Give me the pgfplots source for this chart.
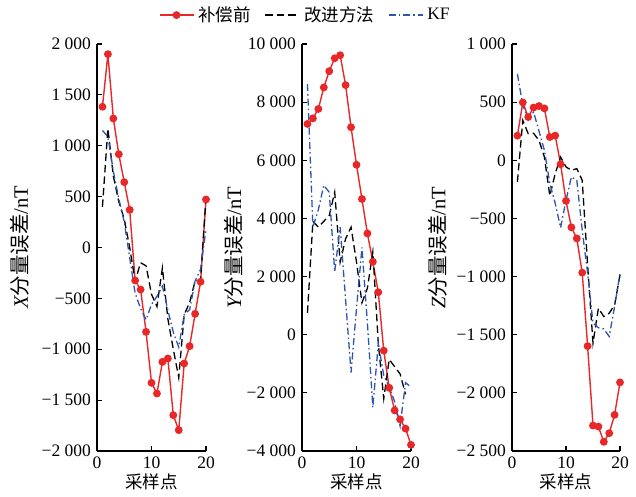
\documentclass[border=0pt]{standalone}
\usepackage{fontspec}
\setmainfont{Liberation Serif}
\newfontfamily\cjk{Noto Sans CJK SC}
\usepackage{pgfplots}
\pgfplotsset{compat=1.18}
\definecolor{cred}{RGB}{232,40,40}
\definecolor{cblue}{RGB}{45,85,175}
\begin{document}
\fontsize{17.5}{20}\selectfont
\begin{tikzpicture}[x=1pt,y=1pt]
\useasboundingbox (0,0) rectangle (636,497);
\pgfplotsset{
 every axis/.append style={
  scale only axis, height=407pt, xmin=0, xmax=20, clip=false,
  scaled y ticks=false, scaled x ticks=false,
  axis x line*=bottom, axis y line*=left, axis line style={line width=1.3pt,-},
  tick style={black,line width=1.1pt}, major tick length=5pt, tick align=inside,
  xtick={0,10,20}, xticklabels={0,10,20},
  xlabel={\cjk 采样点},
  xlabel style={at={(axis description cs:0.5,-0.076)},anchor=center},
  ylabel style={font=\fontsize{20.5}{22}\selectfont},
 },
 redline/.style={cred, line width=1.4pt, mark=*, mark size=3.2pt, mark options={solid,fill=cred}},
 blackline/.style={black, line width=1.3pt, dash pattern=on 7.5pt off 4pt},
 blueline/.style={cblue, line width=1.3pt, dash pattern=on 7pt off 3pt on 1.5pt off 3pt},
}
% Panel 1 (X)
\begin{axis}[at={(97pt,46pt)}, anchor=south west, width=109pt,
  ymin=-2000, ymax=2000,
  ytick={-2000,-1500,-1000,-500,0,500,1000,1500,2000},
  yticklabels={−2 000,−1 500,−1 000,−500,0,500,1 000,1 500,2 000},
  ylabel={{\itshape X}{\cjk 分量误差}/nT},
  ylabel style={at={(axis description cs:-0.706,0.5)},anchor=center}]
\addplot[redline] coordinates {(1,1383)(2,1900)(3,1268)(4,917)(5,642)(6,370)(7,-324)(8,-413)(9,-829)(10,-1330)(11,-1435)(12,-1124)(13,-1091)(14,-1648)(15,-1795)(16,-1140)(17,-970)(18,-652)(19,-337)(20,472)};
\addplot[blackline] coordinates {(1,400)(2,1170)(3,700)(4,450)(5,280)(6,0)(7,-330)(8,-150)(9,-180)(10,-460)(11,-580)(12,-200)(13,-700)(14,-1000)(15,-1280)(16,-660)(17,-540)(18,-330)(19,-320)(20,500)};
\addplot[blueline] coordinates {(1,1150)(2,1090)(3,750)(4,480)(5,250)(6,-100)(7,-450)(8,-600)(9,-710)(10,-560)(11,-480)(12,-380)(13,-616)(14,-832)(15,-980)(16,-660)(17,-610)(18,-330)(19,-216)(20,180)};
\end{axis}
% Panel 2 (Y)
\begin{axis}[at={(302pt,46pt)}, anchor=south west, width=109pt,
  ymin=-4000, ymax=10000,
  ytick={-4000,-2000,0,2000,4000,6000,8000,10000},
  yticklabels={−4 000,−2 000,0,2 000,4 000,6 000,8 000,10 000},
  ylabel={{\itshape Y}{\cjk 分量误差}/nT},
  ylabel style={at={(axis description cs:-0.63,0.5)},anchor=center},
  legend columns=3,
  legend style={draw=none, fill=none, at={(axis description cs:0.03,1.071)}, anchor=center,
    /tikz/every even column/.append style={column sep=12pt},
    /tikz/every odd column/.append style={column sep=2pt}},
  legend image code/.code={\draw[mark repeat=2,mark phase=2] plot coordinates {(0pt,0pt)(17pt,0pt)(34pt,0pt)};}]
\addplot[redline] coordinates {(1,7250)(2,7443)(3,7764)(4,8505)(5,9065)(6,9510)(7,9614)(8,8586)(9,7135)(10,5846)(11,4669)(12,3483)(13,2511)(14,1461)(15,-548)(16,-1826)(17,-2603)(18,-2911)(19,-3230)(20,-3790)};
\addlegendentry{\cjk 补偿前}
\addplot[blackline] coordinates {(1,750)(2,3900)(3,3700)(4,3900)(5,4100)(6,4900)(7,2500)(8,3300)(9,3700)(10,2500)(11,1100)(12,1600)(13,2850)(14,-300)(15,-2200)(16,-850)(17,-1100)(18,-1350)(19,-2050)};
\addlegendentry{\cjk 改进方法}
\addplot[blueline] coordinates {(1,8620)(2,3700)(3,4300)(4,5140)(5,4900)(6,2170)(7,3700)(8,1200)(9,-1300)(10,900)(11,3000)(12,400)(13,-2500)(14,-300)(15,-1400)(16,-1800)(17,-2300)(18,-3140)(19,-1650)(20,-1800)};
\addlegendentry{KF}
\end{axis}
% Panel 3 (Z)
\begin{axis}[at={(512pt,46pt)}, anchor=south west, width=108pt,
  ymin=-2500, ymax=1000,
  ytick={-2500,-2000,-1500,-1000,-500,0,500,1000},
  yticklabels={−2 500,−2 000,−1 500,−1 000,−500,0,500,1 000},
  ylabel={{\itshape Z}{\cjk 分量误差}/nT},
  ylabel style={at={(axis description cs:-0.69,0.5)},anchor=center}]
\addplot[redline] coordinates {(1,212)(2,497)(3,372)(4,454)(5,466)(6,446)(7,200)(8,212)(9,-34)(10,-349)(11,-577)(12,-672)(13,-966)(14,-1598)(15,-2281)(16,-2290)(17,-2421)(18,-2347)(19,-2189)(20,-1910)};
\addplot[blackline] coordinates {(1,-186)(2,343)(3,229)(4,232)(5,171)(6,28)(7,-306)(8,-114)(9,28)(10,-57)(11,-86)(12,-72)(13,-172)(14,-900)(15,-1572)(16,-1272)(17,-1344)(18,-1315)(19,-1244)(20,-986)};
\addplot[blueline] coordinates {(1,743)(2,472)(3,357)(4,414)(5,250)(6,86)(7,-200)(8,-370)(9,-580)(10,-343)(11,-143)(12,-172)(13,-600)(14,-970)(15,-1400)(16,-1440)(17,-1450)(18,-1515)(19,-1258)(20,-970)};
\end{axis}
\end{tikzpicture}
\end{document}
